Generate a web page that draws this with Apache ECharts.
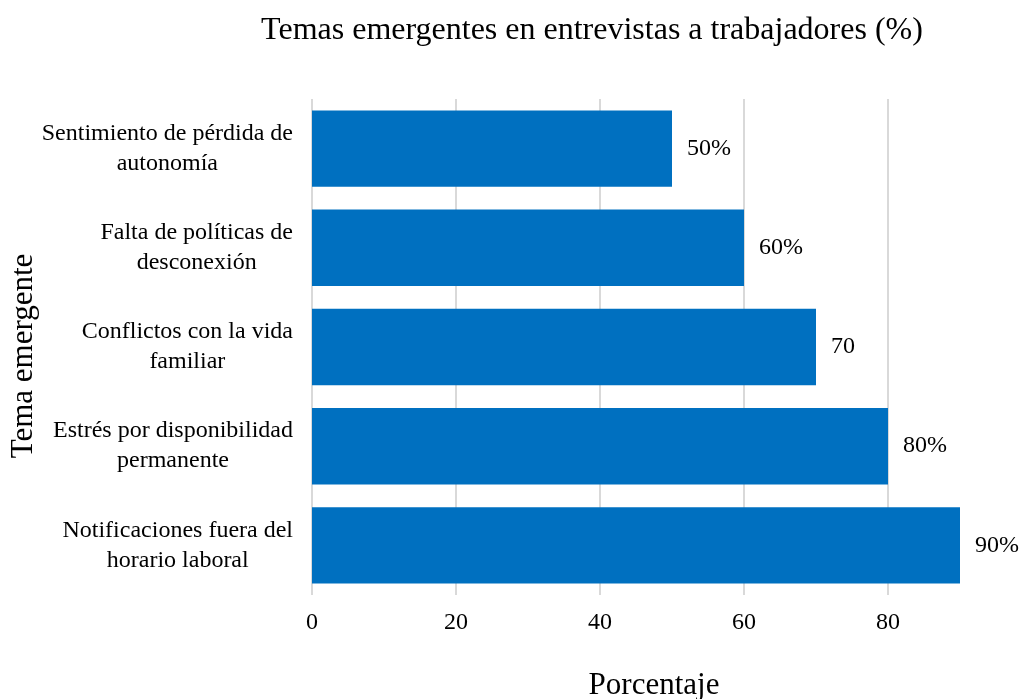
<!DOCTYPE html>
<html><head><meta charset="utf-8">
<script src="https://cdn.jsdelivr.net/npm/echarts@6/dist/echarts.min.js"></script>
<style>html,body{margin:0;padding:0;background:#fff}#c{width:1019px;height:699px}</style>
</head><body><div id="c"></div>
<script>
const categories = [
  "Notificaciones fuera del\nhorario laboral",
  "Estrés por disponibilidad\npermanente",
  "Conflictos con la vida\nfamiliar",
  "Falta de políticas de\ndesconexión",
  "Sentimiento de pérdida de\nautonomía"
];
const values = [90, 80, 70, 60, 50];
const valueLabels = ["90%", "80%", "70", "60%", "50%"];
const xTicks = [0, 20, 40, 60, 80];

const font = "'Liberation Serif', 'Times New Roman', serif";
const chart = echarts.init(document.getElementById('c'));
chart.setOption({
  animation: false,
  textStyle: { fontFamily: font },
  title: {
    text: "Temas emergentes en entrevistas a trabajadores (%)",
    left: 587, top: 10, textAlign: 'center',
    textStyle: { fontFamily: font, fontSize: 32, fontWeight: 'normal', color: '#000' }
  },
  grid: { left: 312, right: 59, top: 99, bottom: 104, containLabel: false, outerBoundsMode: 'none' },
  xAxis: {
    type: 'value', min: 0, max: 90, interval: 20,
    name: 'Porcentaje', nameLocation: 'middle', nameGap: 75, nameMoveOverlap: false,
    nameTextStyle: { fontFamily: font, fontSize: 31, color: '#000', padding: [0, 0, 0, 36] },
    axisLine: { show: false }, axisTick: { show: false },
    axisLabel: { fontFamily: font, fontSize: 24, color: '#000', margin: 16, showMaxLabel: false,
      formatter: v => xTicks.includes(v) ? String(v) : '' },
    splitLine: { show: true, showMaxLine: false, lineStyle: { color: '#d9d9d9', width: 2 } }
  },
  yAxis: {
    type: 'category', data: categories,
    name: 'Tema emergente', nameLocation: 'middle', nameGap: 273, nameMoveOverlap: false,
    nameTextStyle: { fontFamily: font, fontSize: 31, color: '#000', padding: [0, 18, 0, 0] },
    axisLine: { show: false }, axisTick: { show: false },
    axisLabel: {
      margin: 19,
      formatter: v => v.split('\n').map(s => '{c|' + s + '}').join('\n'),
      rich: { c: { fontFamily: font, fontSize: 24, color: '#000', lineHeight: 30, align: 'center' } }
    },
    splitLine: { show: false }
  },
  series: [{
    type: 'bar', data: values, barWidth: '77%',
    itemStyle: { color: '#0070C0' },
    label: { show: true, position: 'right', distance: 15, fontFamily: font, fontSize: 24, color: '#000',
      formatter: p => valueLabels[p.dataIndex] }
  }]
});
</script></body></html>
